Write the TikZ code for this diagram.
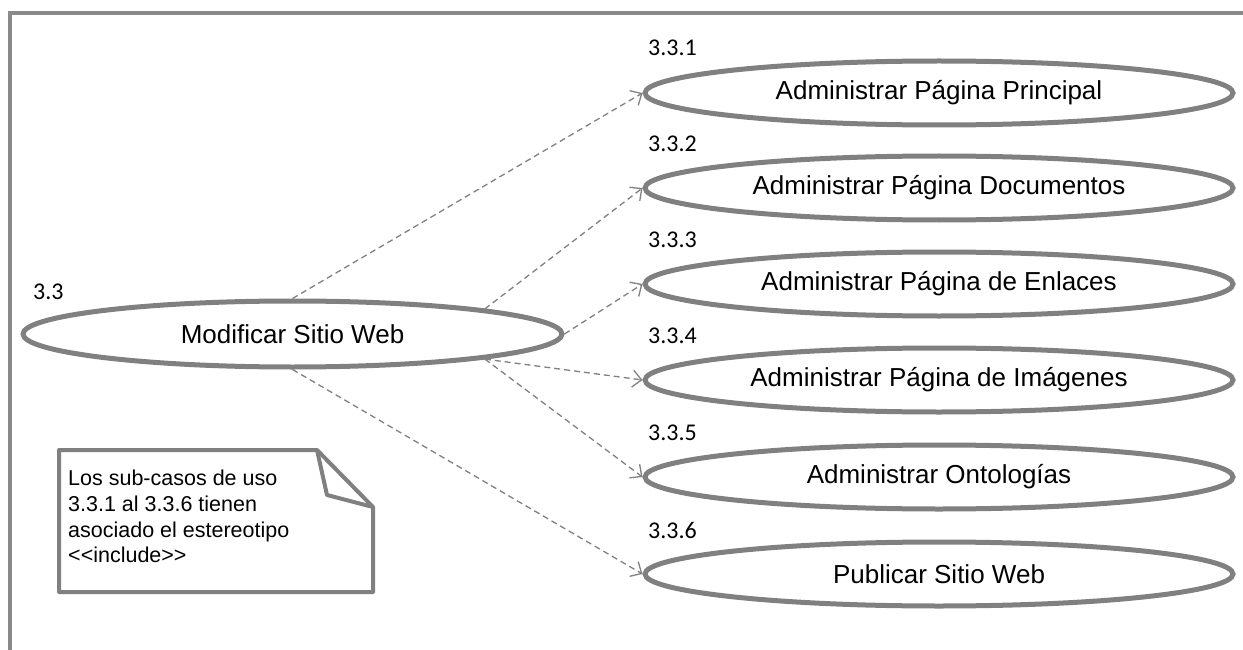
\documentclass[tikz,border=0pt]{standalone}
\usepackage{fontspec}
\setmainfont{Liberation Sans}
\newfontfamily\labfont{Carlito}
\usetikzlibrary{shapes.geometric,arrows.meta}
\definecolor{linegray}{HTML}{808080}
\definecolor{framegray}{HTML}{8A8A8A}
\begin{document}
\begin{tikzpicture}[x=1pt,y=-1pt,
  usecase/.style={ellipse,draw=linegray,line width=5pt,inner sep=0pt,
    minimum width=588pt,minimum height=64pt,font=\fontsize{26}{30}\selectfont},
  maincase/.style={usecase,minimum width=539pt,minimum height=66pt},
  caselabel/.style={font=\labfont\fontsize{24}{28}\selectfont,inner sep=0pt},
  incl/.style={draw=linegray,line width=1.3pt,dash pattern=on 6pt off 4pt,
    -{Straight Barb[length=9pt,width=17pt,line width=1.3pt]}},
  notebox/.style={draw=linegray,line width=4pt,line join=round,fill=white}]
\useasboundingbox (0,0) rectangle (1243,650);
% frame
\draw[framegray,line width=4pt] (10,650) -- (10,13) -- (1243,13);
% main use case
\node[maincase] (m) at (292.5,334) {Modificar Sitio Web};
\node[caselabel,anchor=west] (lm) at (33,292) {3.3};
% sub use cases
\node[usecase] (e1) at (939,93)  {Administrar Página Principal};
\node[usecase] (e2) at (939,188) {Administrar Página Documentos};
\node[usecase] (e3) at (939,284) {Administrar Página de Enlaces};
\node[usecase] (e4) at (939,380) {Administrar Página de Imágenes};
\node[usecase] (e5) at (939,477) {Administrar Ontologías};
\node[usecase] (e6) at (939,574) {Publicar Sitio Web};
\node[caselabel,anchor=west] (l1) at (648,48)  {3.3.1};
\node[caselabel,anchor=west] (l2) at (648,144) {3.3.2};
\node[caselabel,anchor=west] (l3) at (648,240) {3.3.3};
\node[caselabel,anchor=west] (l4) at (648,336) {3.3.4};
\node[caselabel,anchor=west] (l5) at (648,433) {3.3.5};
\node[caselabel,anchor=west] (l6) at (648,530) {3.3.6};
% include relations
\draw[incl] (m.north) -- (e1.west);
\draw[incl] (m.north east) -- (e2.west);
\draw[incl] (m.east) -- (e3.west);
\draw[incl] (m.south east) -- (e4.west);
\draw[incl] (m.south east) -- (e5.west);
\draw[incl] (m.south) -- (e6.west);
% note
\draw[notebox] (59,450) -- (317,450) -- (373,507) -- (373,592) -- (59,592) -- cycle;
\draw[linegray,line width=4pt,line join=round] (317,450) -- (327,495) -- (373,507);
\node[anchor=north west,align=left,inner sep=0pt,
  font=\fontsize{21.5}{25.7}\selectfont] (note) at (68,470)
  {Los sub-casos de uso\\3.3.1 al 3.3.6 tienen\\asociado el estereotipo\\<{}<include>{}>};
\end{tikzpicture}
\end{document}
